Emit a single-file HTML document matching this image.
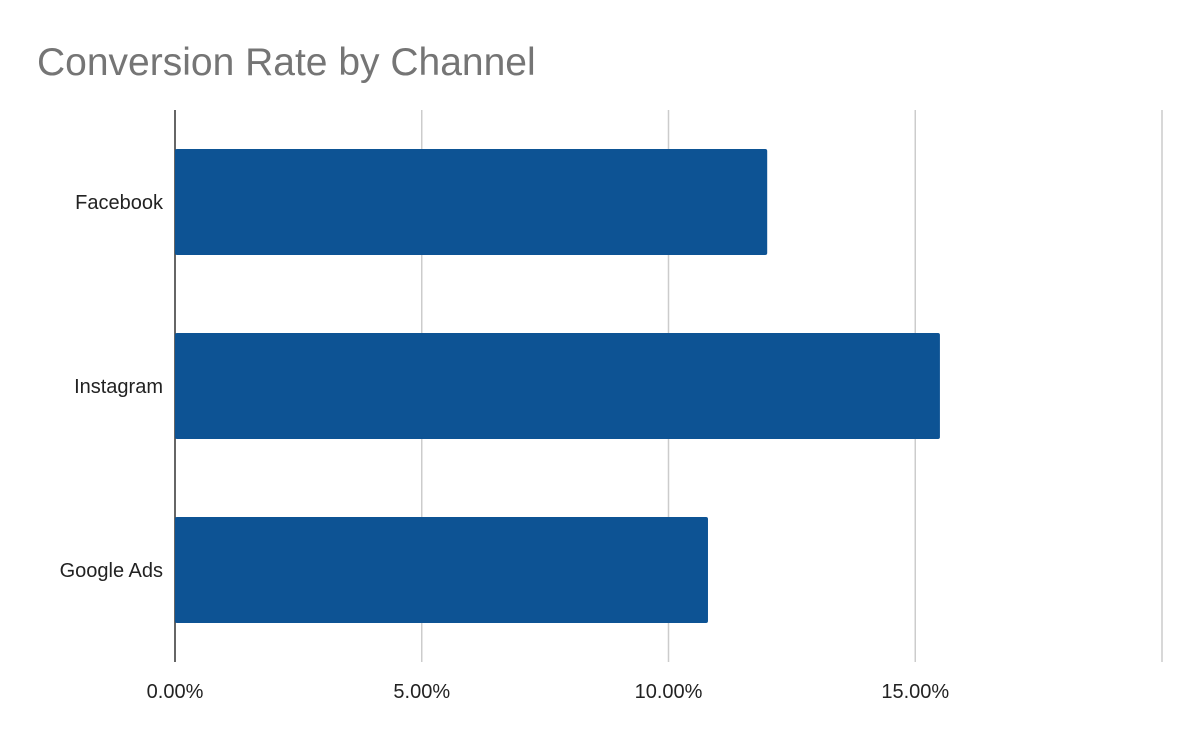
<!DOCTYPE html>
<html><head><meta charset="utf-8"><style>
html,body{margin:0;padding:0;background:#fff;}
svg{display:block;font-family:"Liberation Sans",sans-serif;}
</style></head><body>
<svg id="chart" width="1200" height="742">
<rect width="1200" height="742" fill="#fff"/>
<text x="37" y="75" font-size="39" fill="#757575">Conversion Rate by Channel</text>
<g id="grid"></g><g id="bars"></g><g id="labels"></g>
</svg>
<script>
const categories = ["Facebook","Instagram","Google Ads"];
const values = [12.0, 15.5, 10.8];
const ticks = [0,5,10,15,20];
const tickLabels = ["0.00%","5.00%","10.00%","15.00%",""];
const ns="http://www.w3.org/2000/svg";
const plotX0=175,plotX1=1162,plotTop=110,plotBottom=662,maxV=20;
const xs=v=>plotX0+(v/maxV)*(plotX1-plotX0);
const band=(plotBottom-plotTop)/categories.length;
const gridG=document.getElementById('grid'),barsG=document.getElementById('bars'),labelsG=document.getElementById('labels');
function mk(tag,attrs,parent){const e=document.createElementNS(ns,tag);for(const k in attrs)e.setAttribute(k,attrs[k]);parent.appendChild(e);return e;}
ticks.forEach((t,i)=>{
  const l=mk('line',{x1:xs(t),x2:xs(t),y1:plotTop,y2:plotBottom,stroke:t===0?'#333':'#ccc','stroke-width':1.5},gridG);
  
  
  if(tickLabels[i]){
    const tx=mk('text',{x:xs(t),y:698,'font-size':20,'text-anchor':'middle',fill:'#222'},labelsG);
    tx.textContent=tickLabels[i];
    
    
  }
});
categories.forEach((c,i)=>{
  const cy=plotTop+band*(i+0.5);
  const r=mk('rect',{x:plotX0,y:cy-53,width:xs(values[i])-plotX0,height:106,fill:'#0d5394',rx:2},barsG);
  
  
  const tx=mk('text',{x:163,y:cy+7,'font-size':20,'text-anchor':'end',fill:'#222'},labelsG);
  tx.textContent=c;
  
  
});
</script>
</body></html>
